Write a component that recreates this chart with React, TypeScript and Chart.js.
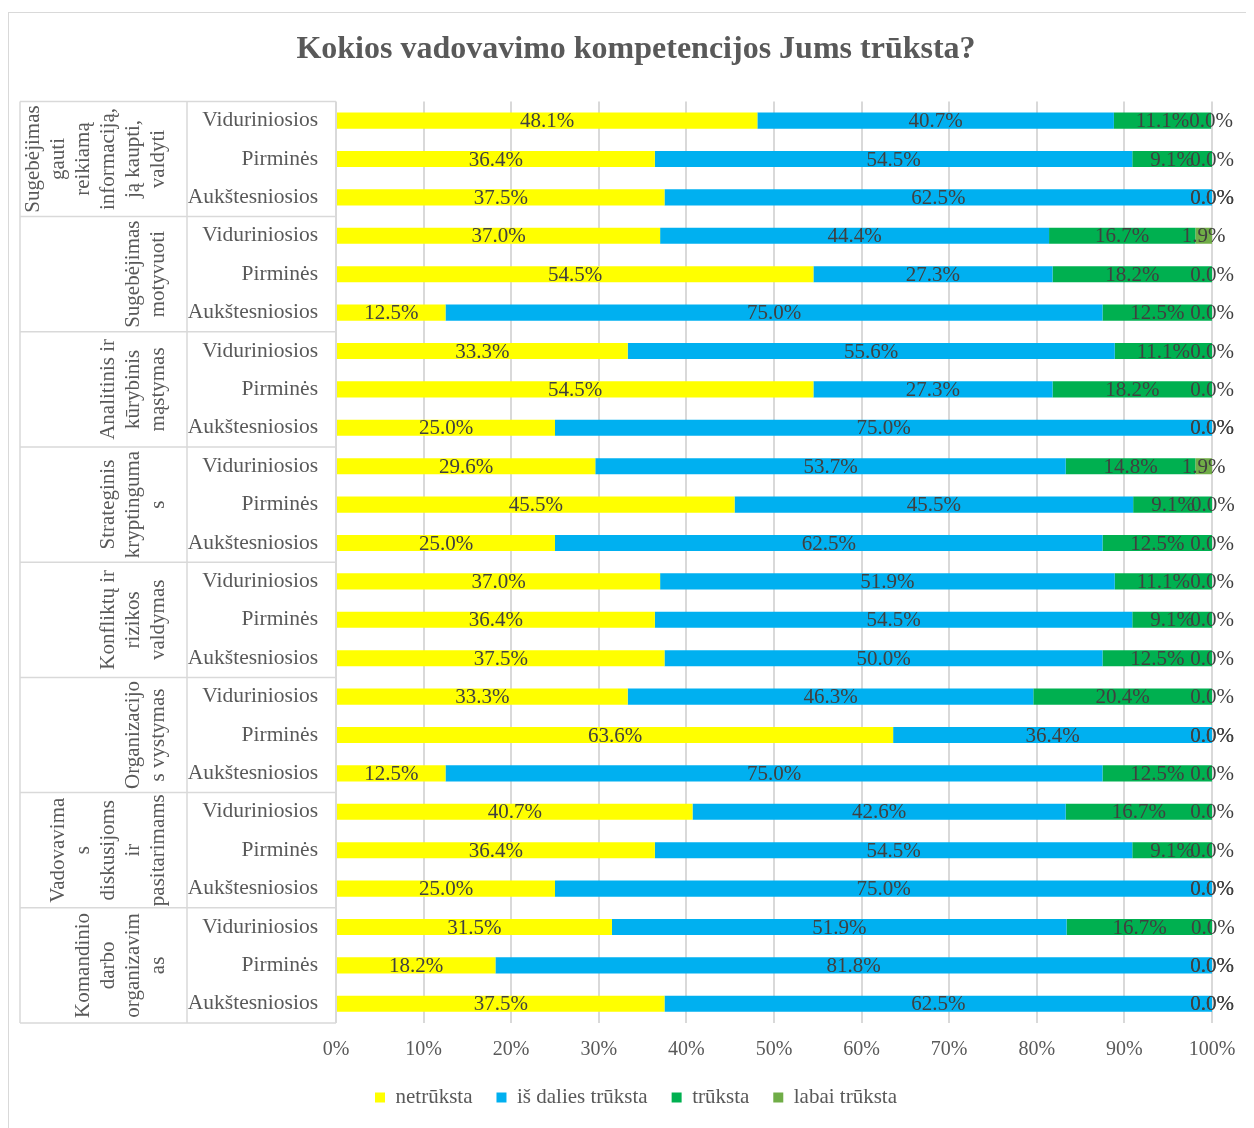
import { useEffect, useRef } from 'react';
import { Chart, registerables } from 'chart.js';
Chart.register(...registerables);

const FONT = '"Liberation Serif", "Times New Roman", serif';

const titleText = 'Kokios vadovavimo kompetencijos Jums trūksta?';
const groupNames: string[][] = [
  ['Sugebėjimas', 'gauti', 'reikiamą', 'informaciją,', 'ją kaupti,', 'valdyti'],
  ['Sugebėjimas', 'motyvuoti'],
  ['Analitinis ir', 'kūrybinis', 'mąstymas'],
  ['Strateginis', 'kryptinguma', 's'],
  ['Konfliktų ir', 'rizikos', 'valdymas'],
  ['Organizacijo', 's vystymas'],
  ['Vadovavima', 's', 'diskusijoms', 'ir', 'pasitarimams'],
  ['Komandinio', 'darbo', 'organizavim', 'as'],
];
const levels = ['Viduriniosios', 'Pirminės', 'Aukštesniosios'];
const seriesNames = ['netrūksta', 'iš dalies trūksta', 'trūksta', 'labai trūksta'];
const seriesColors = ['#FFFF00', '#00B0F0', '#00B050', '#70AD47'];

const netruksta = [
  48.1, 36.4, 37.5,
  37.0, 54.5, 12.5,
  33.3, 54.5, 25.0,
  29.6, 45.5, 25.0,
  37.0, 36.4, 37.5,
  33.3, 63.6, 12.5,
  40.7, 36.4, 25.0,
  31.5, 18.2, 37.5,
];
const isDalies = [
  40.7, 54.5, 62.5,
  44.4, 27.3, 75.0,
  55.6, 27.3, 75.0,
  53.7, 45.5, 62.5,
  51.9, 54.5, 50.0,
  46.3, 36.4, 75.0,
  42.6, 54.5, 75.0,
  51.9, 81.8, 62.5,
];
const truksta = [
  11.1, 9.1, 0.0,
  16.7, 18.2, 12.5,
  11.1, 18.2, 0.0,
  14.8, 9.1, 12.5,
  11.1, 9.1, 12.5,
  20.4, 0.0, 12.5,
  16.7, 9.1, 0.0,
  16.7, 0.0, 0.0,
];
const labai = [
  0.0, 0.0, 0.0,
  1.9, 0.0, 0.0,
  0.0, 0.0, 0.0,
  1.9, 0.0, 0.0,
  0.0, 0.0, 0.0,
  0.0, 0.0, 0.0,
  0.0, 0.0, 0.0,
  0.0, 0.0, 0.0,
];
const xTicks = [0, 10, 20, 30, 40, 50, 60, 70, 80, 90, 100];

const rowLabels = groupNames.flatMap(() => levels);
const seriesValues = [netruksta, isDalies, truksta, labai];

const W = 1246;
const H = 1120;

const framePlugin = {
  id: 'frame',
  beforeDraw(chart: any) {
    const { ctx } = chart;
    ctx.save();
    ctx.fillStyle = '#ffffff';
    ctx.fillRect(0, 0, chart.width, chart.height);
    ctx.strokeStyle = '#d9d9d9';
    ctx.lineWidth = 1;
    ctx.strokeRect(0.5, 4.5, chart.width + 10, chart.height + 10);
    ctx.restore();
  },
};

const labelsPlugin = {
  id: 'segLabels',
  afterDatasetsDraw(chart: any) {
    const { ctx } = chart;
    ctx.save();
    ctx.font = `21px ${FONT}`;
    ctx.fillStyle = '#404040';
    ctx.textAlign = 'center';
    ctx.textBaseline = 'middle';
    chart.data.datasets.forEach((ds: any, i: number) => {
      const meta = chart.getDatasetMeta(i);
      meta.data.forEach((bar: any, j: number) => {
        const p = bar.getProps(['x', 'y', 'base'], true);
        const cx = (p.x + p.base) / 2;
        ctx.fillText(Number(ds.data[j]).toFixed(1) + '%', cx, p.y + 1);
      });
    });
    ctx.restore();
  },
};

const groupPlugin = {
  id: 'groupAxis',
  afterDraw(chart: any) {
    const { ctx, chartArea } = chart;
    const yScale = chart.scales.y;
    const top = chartArea.top;
    const bottom = chartArea.bottom;
    const rowH = (bottom - top) / rowLabels.length;
    const leftX = 12;
    const midX = 179;
    const rightX = chartArea.left;
    ctx.save();
    ctx.strokeStyle = '#d9d9d9';
    ctx.lineWidth = 1.5;
    ctx.beginPath();
    ctx.moveTo(leftX, top);
    ctx.lineTo(leftX, bottom);
    ctx.moveTo(midX, top);
    ctx.lineTo(midX, bottom);
    for (let g = 0; g <= groupNames.length; g++) {
      const y = top + g * 3 * rowH;
      ctx.moveTo(leftX, y);
      ctx.lineTo(rightX, y);
    }
    ctx.stroke();

    ctx.font = `21px ${FONT}`;
    ctx.fillStyle = '#595959';
    ctx.textAlign = 'center';
    ctx.textBaseline = 'middle';
    groupNames.forEach((lines, g) => {
      const cy = yScale.getPixelForValue(g * 3 + 1);
      const n = lines.length;
      lines.forEach((line, k) => {
        const x = 150 - (n - 1 - k) * 25;
        ctx.save();
        ctx.translate(x, cy);
        ctx.rotate(-Math.PI / 2);
        ctx.fillText(line, 0, 0);
        ctx.restore();
      });
    });
    ctx.restore();
  },
};

export default function App() {
  const ref = useRef<HTMLCanvasElement | null>(null);
  useEffect(() => {
    if (!ref.current) return;
    const chart = new Chart(ref.current, {
      type: 'bar',
      data: {
        labels: rowLabels,
        datasets: seriesNames.map((name, i) => ({
          label: name,
          data: seriesValues[i],
          backgroundColor: seriesColors[i],
          borderWidth: 0,
          barPercentage: 0.42,
          categoryPercentage: 1,
        })),
      },
      options: {
        indexAxis: 'y',
        animation: false,
        responsive: false,
        devicePixelRatio: 1,
        layout: { padding: { top: 0, left: 10, right: 0, bottom: 10 } },
        scales: {
          x: {
            stacked: true,
            min: 0,
            max: 100,
            afterBuildTicks: (s: any) => {
              s.ticks = xTicks.map((v) => ({ value: v }));
            },
            afterFit: (s: any) => {
              s.height = 40;
            },
            grid: { color: '#d9d9d9', lineWidth: 2, drawTicks: false },
            border: { display: false },
            ticks: {
              padding: 15,
              color: '#595959',
              font: { family: FONT, size: 20 },
              callback: (v: any) => v + '%',
            },
          },
          y: {
            stacked: true,
            grid: { display: false, drawTicks: false },
            border: { display: false },
            ticks: {
              autoSkip: false,
              padding: 18,
              color: '#595959',
              font: { family: FONT, size: 21.5 },
            },
            afterFit: (s: any) => {
              s.width = 318;
            },
          },
          yRight: {
            type: 'linear',
            axis: 'y',
            position: 'right',
            display: true,
            grid: { display: false, drawTicks: false },
            border: { display: false },
            ticks: { display: false },
            afterFit: (s: any) => {
              s.width = 42;
            },
          },
        } as any,
        plugins: {
          title: {
            display: true,
            text: titleText,
            color: '#595959',
            font: { family: FONT, size: 32, weight: 'bold' },
            padding: { top: 23, bottom: 32 },
          },
          legend: {
            position: 'bottom',
            labels: {
              boxWidth: 10,
              boxHeight: 10,
              padding: 24,
              color: '#595959',
              font: { family: FONT, size: 21 },
            },
          },
          tooltip: { enabled: false },
        },
      },
      plugins: [framePlugin, labelsPlugin, groupPlugin],
    });
    return () => chart.destroy();
  }, []);
  return <canvas ref={ref} width={W} height={H} style={{ display: 'block' }} />;
}
